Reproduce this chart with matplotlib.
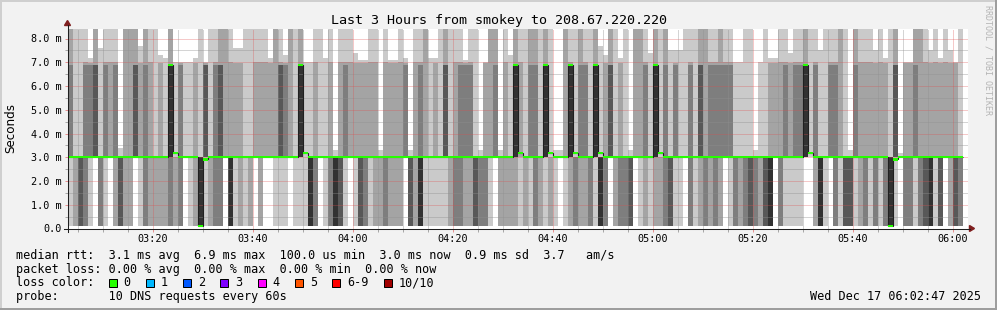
import numpy as np
import matplotlib
matplotlib.use("Agg")
import matplotlib.pyplot as plt
from matplotlib.patches import Rectangle, Polygon
from matplotlib.lines import Line2D

# ---------------- data ----------------
title = "Last 3 Hours from smokey to 208.67.220.220"
start_time = "03:03"
time_labels = ["03:20", "03:40", "04:00", "04:20", "04:40", "05:00", "05:20", "05:40", "06:00"]
y_tick_values = [0, 1, 2, 3, 4, 5, 6, 7, 8]
y_tick_labels = ["0.0", "1.0 m", "2.0 m", "3.0 m", "4.0 m", "5.0 m", "6.0 m", "7.0 m", "8.0 m"]

# per-minute sample: number of pings near 0.1 ms, number of pings >= 6.9 ms
n_low = [1,2,4,3,1,0,3,1,0,2, 4,2,2,0,1,3,2,2,2,2, 3,2,3,0,1,2,5,1,2,3,
         3,0,5,1,2,1,2,0,2,0, 0,1,1,1,0,1,1,1,5,3, 0,1,3,5,4,1,0,1,4,3,
         1,2,2,3,2,2,2,0,4,2, 5,1,1,1,1,1,2,3,3,2, 2,4,3,3,1,0,2,2,2,2,
         1,2,1,3,2,1,2,1,0,1, 2,3,2,2,3,1,5,3,0,2, 3,3,4,0,1,2,1,2,2,3,
         4,1,1,0,3,1,2,3,2,3, 2,0,1,3,2,3,4,3,2,4, 5,0,3,1,1,1,1,0,0,2,
         5,1,0,3,1,4,4,1,2,3, 1,3,1,3,5,1,0,3,3,1, 3,4,5,1,4,0,2,4,3]
n_high = [3,1,1,3,3,4,1,3,2,3, 0,2,2,4,2,3,2,1,2,1, 5,1,3,1,1,2,1,4,1,3,
          4,2,2,2,2,1,1,2,2,2, 2,2,4,3,2,1,5,1,1,2, 1,1,2,0,2,3,2,2,2,2,
          2,2,0,2,2,2,2,3,0,2, 3,2,1,2,1,4,1,2,3,3, 3,1,0,2,2,3,0,2,1,5,
          2,1,3,3,1,5,1,0,0,2, 5,1,3,3,1,5,1,2,4,1, 2,1,0,2,2,3,1,5,1,3,
          1,3,1,1,3,1,4,2,3,3, 3,3,3,1,1,1,1,0,1,1, 2,2,2,3,2,3,3,5,1,3,
          1,1,3,3,2,1,0,3,2,2, 2,2,2,2,1,4,0,2,2,3, 2,2,2,2,2,2,2,2,1]
# highest ping (ms) and second highest ping (ms) of each sample
top_ms = [8.6,8.6,8.6,8.6,7.2,8.6,7.6,8.6,8.6,8.6, 3.4,8.6,8.6,8.6,7.7,8.6,8.6,8.6,7.3,7.2,
          8.6,7.0,7.0,7.0,7.0,7.2,8.6,7.0,8.6,8.6,
          8.6,8.6,8.6,7.6,7.6,8.6,8.6,8.6,8.6,8.6, 7.2,8.6,8.6,7.3,8.6,8.6,8.6,7.0,7.0,8.6,
          8.6,7.2,8.6,3.3,8.6,8.6,8.6,7.4,7.1,7.1,
          8.6,8.6,3.3,8.6,7.1,7.1,8.6,7.2,3.3,8.6, 8.6,8.6,7.2,7.2,8.6,8.6,8.6,8.6,8.6,7.1,
          8.6,8.6,3.3,7.0,8.6,8.6,3.3,8.6,7.3,8.6,
          8.6,8.6,8.6,8.6,8.6,8.6,8.6,3.3,3.3,8.6, 8.6,8.6,8.6,8.6,8.6,8.6,7.7,7.3,8.6,8.6,
          7.2,8.6,3.3,8.6,8.6,8.6,7.4,8.6,8.6,8.6,
          7.5,7.5,7.5,8.6,8.6,8.6,8.6,8.6,8.6,8.6, 8.6,8.6,8.6,7.0,7.0,8.6,8.6,3.3,7.0,8.6,
          7.2,7.2,8.6,8.6,7.4,8.6,8.6,8.6,8.6,8.6,
          7.5,8.6,8.6,8.6,8.6,8.6,3.3,8.6,8.6,8.6, 8.6,7.5,8.6,7.2,8.6,8.6,3.2,7.0,7.0,8.6,
          8.6,8.6,7.5,8.6,7.2,8.6,7.5,7.0,8.6]
second_ms = [8.6,7.0,7.0,7.0,6.95,8.6,7.0,7.0,7.0,7.0, 3.0,8.6,8.6,8.6,6.95,8.6,7.0,7.0,6.95,6.95,
             8.6,6.95,6.95,6.95,6.95,6.95,7.0,6.95,7.0,7.0,
             8.6,8.6,7.0,6.95,6.95,7.0,7.0,7.0,7.0,7.0, 6.95,8.6,7.0,6.95,8.6,7.0,8.6,6.95,6.95,7.0,
             7.0,6.95,7.0,3.0,7.0,7.0,7.0,6.95,6.95,6.95,
             7.0,7.0,3.0,7.0,6.95,6.95,7.0,6.95,3.0,7.0, 7.0,8.6,6.95,6.95,7.0,8.6,7.0,7.0,7.0,6.95,
             7.0,7.0,3.0,6.95,8.6,8.6,3.0,7.0,6.95,8.6,
             7.0,7.0,8.6,8.6,7.0,8.6,7.0,3.0,3.0,8.6, 7.0,7.0,8.6,7.0,7.0,8.6,6.95,6.95,8.6,7.0,
             6.95,7.0,3.0,8.6,8.6,7.0,6.95,8.6,7.0,8.6,
             6.95,6.95,6.95,7.0,7.0,7.0,8.6,8.6,7.0,7.0, 8.6,7.0,7.0,6.95,6.95,7.0,7.0,3.0,6.95,7.0,
             6.95,6.95,7.0,7.0,6.95,7.0,7.0,8.6,7.0,7.0,
             6.95,7.0,7.0,7.0,8.6,7.0,3.0,8.6,7.0,7.0, 7.0,6.95,7.0,6.95,7.0,8.6,3.0,6.95,6.95,8.6,
             8.6,7.0,6.95,7.0,6.95,7.0,6.95,6.95,7.0]
median_ms = [3.0,3.0,3.0,3.0,3.0,3.0,3.0,3.0,3.0,3.0, 3.0,3.0,3.0,3.0,3.0,3.0,3.0,3.0,3.0,3.0,
             6.88,3.17,3.0,3.0,3.0,3.0,0.1,2.91,3.0,3.0,
             3.0,3.0,3.0,3.0,3.0,3.0,3.0,3.0,3.0,3.0, 3.0,3.0,3.0,3.0,3.0,3.0,6.88,3.17,3.0,3.0,
             3.0,3.0,3.0,3.0,3.0,3.0,3.0,3.0,3.0,3.0,
             3.0,3.0,3.0,3.0,3.0,3.0,3.0,3.0,3.0,3.0, 3.0,3.0,3.0,3.0,3.0,3.0,3.0,3.0,3.0,3.0,
             3.0,3.0,3.0,3.0,3.0,3.0,3.0,3.0,3.0,6.88,
             3.17,3.0,3.0,3.0,3.0,6.88,3.17,3.0,3.0,3.0, 6.88,3.17,3.0,3.0,3.0,6.88,3.17,3.0,3.0,3.0,
             3.0,3.0,3.0,3.0,3.0,3.0,3.0,6.88,3.17,3.0,
             3.0,3.0,3.0,3.0,3.0,3.0,3.0,3.0,3.0,3.0, 3.0,3.0,3.0,3.0,3.0,3.0,3.0,3.0,3.0,3.0,
             3.0,3.0,3.0,3.0,3.0,3.0,3.0,6.88,3.17,3.0,
             3.0,3.0,3.0,3.0,3.0,3.0,3.0,3.0,3.0,3.0, 3.0,3.0,3.0,3.0,0.1,2.91,3.0,3.0,3.0,3.0,
             3.0,3.0,3.0,3.0,3.0,3.0,3.0,3.0,3.0]
LOW_MS, MID_MS, HIGH_MS = 0.1, 3.0, 6.88
PINGS = 10

legend_rtt = "median rtt:  3.1 ms avg  6.9 ms max  100.0 us min  3.0 ms now  0.9 ms sd  3.7   am/s"
legend_loss = "packet loss: 0.00 % avg  0.00 % max  0.00 % min  0.00 % now"
legend_color_title = "loss color:"
loss_labels = ["0", "1", "2", "3", "4", "5", "6-9", "10/10"]
loss_colors = ["#26ff00", "#00b8ff", "#0059ff", "#7e00ff", "#ff00ff", "#ff5500", "#ff0000", "#a10000"]
legend_probe = "probe:       10 DNS requests every 60s"
timestamp = "Wed Dec 17 06:02:47 2025"
watermark = "RRDTOOL / TOBI OETIKER"

# ---------------- figure ----------------
plt.rcParams["font.family"] = ["DejaVu Sans Mono"]
W, H = 997, 310
fig = plt.figure(figsize=(W / 100, H / 100), dpi=100)
fig.patch.set_facecolor("#f2f2f2")


def fx(x):
    return x / W


def fy(y):
    return 1.0 - y / H


X0, X1 = 68.0, 968.0
Y0, Y1 = 228.5, 28.5
PX_PER_MS = 23.75
ymax = (Y0 - Y1) / PX_PER_MS
ax = fig.add_axes([fx(X0), fy(Y0), (X1 - X0) / W, (Y0 - Y1) / H])
ax.set_facecolor("white")
ax.set_xlim(0, 180)
ax.set_ylim(0, ymax)
for s in ax.spines.values():
    s.set_visible(False)

# build sorted pings of each sample
n = len(n_low)
pings = []
for i in range(n):
    L, Hn = n_low[i], n_high[i]
    lows = [LOW_MS] * L
    if Hn == 0:
        mids = [MID_MS] * (PINGS - L - 1) + [top_ms[i]]
        highs = []
    else:
        mids = [MID_MS] * (PINGS - L - Hn)
        if Hn == 1:
            highs = [top_ms[i]]
        else:
            highs = [HIGH_MS] * (Hn - 2) + [second_ms[i], top_ms[i]]
    pings.append(sorted(lows + mids + highs))
pings = np.array(pings)
x = np.arange(n)

# smoke
half = PINGS // 2
for k in range(1, half + 1):
    shade = int(190 / half * (half - k)) + 50
    col = "#%02x%02x%02x" % (shade, shade, shade)
    bot = pings[:, k - 1]
    top = pings[:, PINGS - k]
    ax.bar(x, top - bot, bottom=bot, width=1.0, align="edge", color=col,
           linewidth=0, antialiased=False, zorder=1)

# grid
grid_c = (0.56, 0.56, 0.56, 0.75)
mgrid_c = (0.87, 0.31, 0.31, 0.6)
dot = (0, (1, 1))
for v in np.arange(0.5, ymax, 0.5):
    ax.axhline(v, color=mgrid_c if float(v).is_integer() else grid_c, lw=0.72, ls=dot, zorder=2)


def to_min(s):
    h, m = s.split(":")
    h0, m0 = start_time.split(":")
    return int(h) * 60 + int(m) - (int(h0) * 60 + int(m0))


major_x = [to_min(t) - 0.1 for t in time_labels]
minor_x = [m - 0.1 for m in range(2, 180, 5) if (m - 0.1) not in major_x]
for m in minor_x:
    ax.axvline(m, color=grid_c, lw=0.72, ls=dot, zorder=2)
for m in major_x:
    ax.axvline(m, color=mgrid_c, lw=0.72, ls=dot, zorder=2)

# median
med = np.array(median_ms)
ax.stairs(med, np.arange(n + 1), color="#202020", lw=0.8, baseline=None, zorder=3)
ax.bar(x, 0.095, bottom=med - 0.0475, width=1.0, align="edge", color=loss_colors[0],
       linewidth=0, antialiased=False, zorder=4)

# ticks & labels
ax.set_xticks(major_x, time_labels)
ax.set_xticks(minor_x, minor=True)
ax.set_yticks(y_tick_values, y_tick_labels)
ax.set_yticks(np.arange(0.5, 8.5, 1.0), minor=True)
ax.tick_params(axis="both", which="major", length=2.2, width=0.72, color=mgrid_c, labelsize=7.3)
ax.tick_params(axis="both", which="minor", length=2.2, width=0.72, color=grid_c)
ax.tick_params(axis="x", which="major", pad=1.6)
ax.tick_params(axis="y", which="major", pad=2.6)

# axes lines and arrows
axis_c = "#1f1f1f"
arrow_c = "#801f1f"
fig.add_artist(Line2D([fx(63.5), fx(969.5)], [fy(228.5), fy(228.5)], color=axis_c, lw=0.75))
fig.add_artist(Line2D([fx(67.5), fx(67.5)], [fy(231.5), fy(25)], color=axis_c, lw=0.75))
fig.add_artist(Polygon([(fx(64.5), fy(25.5)), (fx(70.5), fy(25.5)), (fx(67.5), fy(20.5))],
                       closed=True, color=arrow_c, transform=fig.transFigure))
fig.add_artist(Polygon([(fx(969.5), fy(225.5)), (fx(969.5), fy(231.5)), (fx(974.5), fy(228.5))],
                       closed=True, color=arrow_c, transform=fig.transFigure))

# frame
fig.add_artist(Rectangle((0, fy(2)), 1, 2 / H, transform=fig.transFigure, color="#cfcfcf", lw=0))
fig.add_artist(Rectangle((0, 0), 2 / W, 1, transform=fig.transFigure, color="#cfcfcf", lw=0))
fig.add_artist(Rectangle((0, 0), 1, 2 / H, transform=fig.transFigure, color="#9e9e9e", lw=0))
fig.add_artist(Rectangle((fx(995), 0), 2 / W, 1, transform=fig.transFigure, color="#9e9e9e", lw=0))

# texts
fig.text(fx(498.5), fy(24.3), title, fontsize=9.6, ha="center", va="baseline")
fig.text(fx(10.5), fy(127.5), "Seconds", family="DejaVu Sans", fontsize=8.6,
         rotation=90, ha="center", va="center")
fig.text(fx(988), fy(60), watermark, fontsize=6.0, color="#b4b4b4", rotation=270,
         ha="center", va="center")

LEG_FS = 8.5
CH = 7.11
fig.text(fx(16), fy(258.5), legend_rtt, fontsize=LEG_FS, ha="left", va="baseline")
fig.text(fx(16), fy(272.5), legend_loss, fontsize=LEG_FS, ha="left", va="baseline")
fig.text(fx(16), fy(286.5), legend_color_title, fontsize=LEG_FS, ha="left", va="baseline")
bx = 108.5
for lab, colr in zip(loss_labels, loss_colors):
    fig.add_artist(Rectangle((fx(bx), fy(286.5)), 8 / W, 8 / H, facecolor=colr,
                             edgecolor="black", lw=0.72, transform=fig.transFigure))
    tx = bx + 15
    fig.text(fx(tx), fy(286.5), lab, fontsize=LEG_FS, ha="left", va="baseline")
    bx = tx + len(lab) * CH + 15.2
fig.text(fx(16), fy(300.3), legend_probe, fontsize=LEG_FS, ha="left", va="baseline")
fig.text(fx(980.5), fy(300.3), timestamp, fontsize=LEG_FS, ha="right", va="baseline")

fig.savefig("out.png", dpi=100, facecolor=fig.get_facecolor())
